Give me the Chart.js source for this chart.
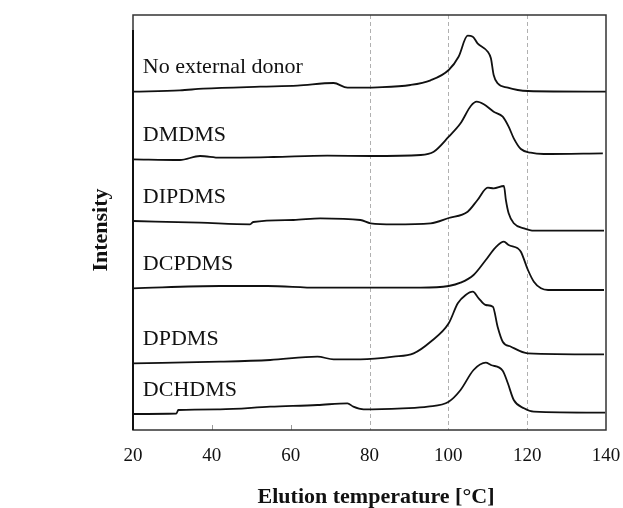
<!DOCTYPE html>
<html>
<head>
<meta charset="utf-8">
<script src="https://cdn.jsdelivr.net/npm/chart.js@4.4.0/dist/chart.umd.min.js"></script>
<style>
  html, body { margin: 0; padding: 0; background: #fff; }
  #wrap { width: 623px; height: 508px; }
</style>
</head>
<body>
<div id="wrap"><canvas id="myChart" width="623" height="508"></canvas></div>
<script>
// series names, top to bottom
const donors = ["No external donor", "DMDMS", "DIPDMS", "DCPDMS", "DPDMS", "DCHDMS"];

// elution temperature (°C) and stacked intensity
const tempNone = [20, 31.9, 37.8, 52.3, 61.7, 70.9, 74.4, 82.0, 90.4, 95.5, 100.1, 102.6, 104.9, 106.2, 107.4, 110.0, 110.8, 111.5, 112.5, 115.1, 117.6, 120.2, 140];
const intNone = [338.3, 339.7, 341.3, 343.3, 344.3, 347, 342.3, 342.7, 345, 349.7, 360, 373.3, 394.3, 393.3, 386.7, 378.3, 371.7, 355, 346.7, 342.3, 340, 339, 338.3];

const tempDMDMS = [20, 31.9, 37.0, 42.1, 55.6, 69.3, 80.3, 93.0, 96.3, 100.1, 103.1, 105.7, 107.2, 109.0, 111.5, 113.8, 115.3, 116.6, 118.4, 120.9, 124.2, 139.2];
const intDMDMS = [270.7, 270, 274, 272.3, 273, 274.3, 274, 275, 278.3, 293.3, 306.7, 324, 328.3, 325.7, 318.3, 313.3, 303.3, 291.7, 281, 277.3, 276, 276.7];

const tempDIPDMS = [20, 37.0, 49.7, 50.5, 60.7, 67.5, 77.7, 80.3, 86.1, 95.5, 100.1, 104.9, 107.4, 110.0, 111.5, 114.1, 114.6, 115.3, 116.6, 119.2, 121.7, 139.5];
const intDIPDMS = [209, 207.3, 205.7, 208, 210, 211.7, 210, 206.7, 205.7, 206.7, 212, 218.3, 230, 242.3, 241.7, 244, 230, 216.7, 206.7, 201.7, 199.3, 199.3];

const tempDCPDMS = [20, 42.1, 54.1, 66.8, 77.7, 93.0, 100.1, 103.1, 106.4, 109.5, 112.0, 114.1, 115.3, 117.6, 118.4, 120.2, 121.7, 123.5, 125.3, 139.5];
const intDCPDMS = [141.7, 144, 144, 142.3, 142.3, 142.3, 144, 147.3, 155, 170, 182.7, 188.3, 185, 181.7, 178.3, 160, 148.3, 141.7, 140, 140];

const tempDPDMS = [20, 42.1, 54.8, 66.8, 70.9, 77.7, 86.1, 91.2, 95.5, 100.1, 102.4, 104.4, 106.2, 107.7, 109.5, 111.3, 112.5, 113.8, 115.9, 120.2, 139.5];
const intDPDMS = [66.7, 68.3, 70, 73.3, 70.7, 70.7, 73.3, 76.7, 88.3, 106.7, 126.7, 135, 138.3, 131.7, 125, 123.3, 103.3, 88.3, 83.3, 76.7, 75.7];

const tempDCHDMS = [20, 31.0, 31.5, 42.1, 54.8, 66.8, 74.4, 75.9, 78.5, 88.4, 94.8, 100.1, 103.1, 106.4, 109.5, 110.8, 113.8, 115.1, 116.6, 119.2, 121.7, 139.8];
const intDCHDMS = [16, 16.5, 20, 20.7, 23.3, 25, 26.7, 23.3, 20.7, 21.7, 23.3, 28.3, 40, 60, 67.3, 65, 59.3, 46.7, 30, 21.7, 18.3, 17.3];

// x axis ticks
const xTicks = [20, 40, 60, 80, 100, 120, 140];
const gridTemps = [80, 100, 120];

const temps = [tempNone, tempDMDMS, tempDIPDMS, tempDCPDMS, tempDPDMS, tempDCHDMS];
const values = [intNone, intDMDMS, intDIPDMS, intDCPDMS, intDPDMS, intDCHDMS];

function toPoints(xs, ys) {
    return xs.map((x, i) => ({ x: x, y: ys[i] }));
}

const serif = "'Liberation Serif', 'DejaVu Serif', serif";

const framePlugin = {
    id: 'frame',
    beforeDatasetsDraw(chart) {
        const ctx = chart.ctx;
        const a = chart.chartArea;
        const xs = chart.scales.x;
        ctx.save();
        // dashed grid lines
        ctx.strokeStyle = '#b0b0b0';
        ctx.lineWidth = 1;
        ctx.setLineDash([4, 3]);
        gridTemps.forEach(t => {
            const px = Math.round(xs.getPixelForValue(t)) + 0.5;
            ctx.beginPath();
            ctx.moveTo(px, a.top);
            ctx.lineTo(px, a.bottom);
            ctx.stroke();
        });
        ctx.setLineDash([]);
        // small inward ticks
        ctx.strokeStyle = '#999';
        [40, 60].forEach(t => {
            const px = Math.round(xs.getPixelForValue(t)) + 0.5;
            ctx.beginPath();
            ctx.moveTo(px, a.bottom);
            ctx.lineTo(px, a.bottom - 5);
            ctx.stroke();
        });
        ctx.restore();
    },
    afterDatasetsDraw(chart) {
        const ctx = chart.ctx;
        const a = chart.chartArea;
        const xs = chart.scales.x;
        const ys = chart.scales.y;
        ctx.save();
        ctx.strokeStyle = '#333';
        ctx.lineWidth = 1.5;
        ctx.strokeRect(a.left, a.top, a.right - a.left, a.bottom - a.top);
        ctx.lineWidth = 2;
        ctx.strokeStyle = '#111';
        ctx.beginPath();
        ctx.moveTo(a.left, a.top + 15);
        ctx.lineTo(a.left, a.bottom);
        ctx.stroke();

        // series labels
        ctx.fillStyle = '#111';
        ctx.font = '22px ' + serif;
        ctx.textBaseline = 'middle';
        ctx.textAlign = 'left';
        donors.forEach((name, i) => {
            const py = ys.getPixelForValue(values[i][0]) - 24;
            ctx.fillText(name, xs.getPixelForValue(22.5), py);
        });

        // axis titles
        ctx.font = 'bold 22px ' + serif;
        ctx.textAlign = 'center';
        ctx.fillText('Elution temperature [°C]', 376, 497);
        ctx.translate(101, 230);
        ctx.rotate(-Math.PI / 2);
        ctx.fillText('Intensity', 0, 0);
        ctx.restore();
    }
};

function drawChart() {
    const ctx = document.getElementById('myChart').getContext('2d');
    new Chart(ctx, {
        type: 'line',
        data: {
            datasets: donors.map((name, i) => ({
                label: name,
                data: toPoints(temps[i], values[i]),
                borderColor: '#111',
                borderWidth: 1.8,
                pointRadius: 0,
                fill: false,
                cubicInterpolationMode: 'monotone'
            }))
        },
        options: {
            responsive: false,
            animation: false,
            layout: { padding: { left: 0, right: 0, top: 15, bottom: 0 } },
            plugins: {
                legend: { display: false },
                tooltip: { enabled: false }
            },
            scales: {
                x: {
                    type: 'linear',
                    min: 20,
                    max: 140,
                    afterBuildTicks: scale => {
                        scale.ticks = xTicks.map(v => ({ value: v }));
                    },
                    afterFit: scale => {
                        scale.height = 78;
                        scale.paddingLeft = 0;
                        scale.paddingRight = 17;
                    },
                    grid: { display: false },
                    border: { display: false },
                    ticks: {
                        color: '#111',
                        font: { family: serif, size: 19 },
                        padding: 7,
                        maxRotation: 0
                    }
                },
                y: {
                    min: 0,
                    max: 415,
                    afterFit: scale => { scale.width = 133; },
                    grid: { display: false },
                    border: { display: false },
                    ticks: { display: false }
                }
            }
        },
        plugins: [framePlugin]
    });
}

drawChart();
</script>
</body>
</html>
